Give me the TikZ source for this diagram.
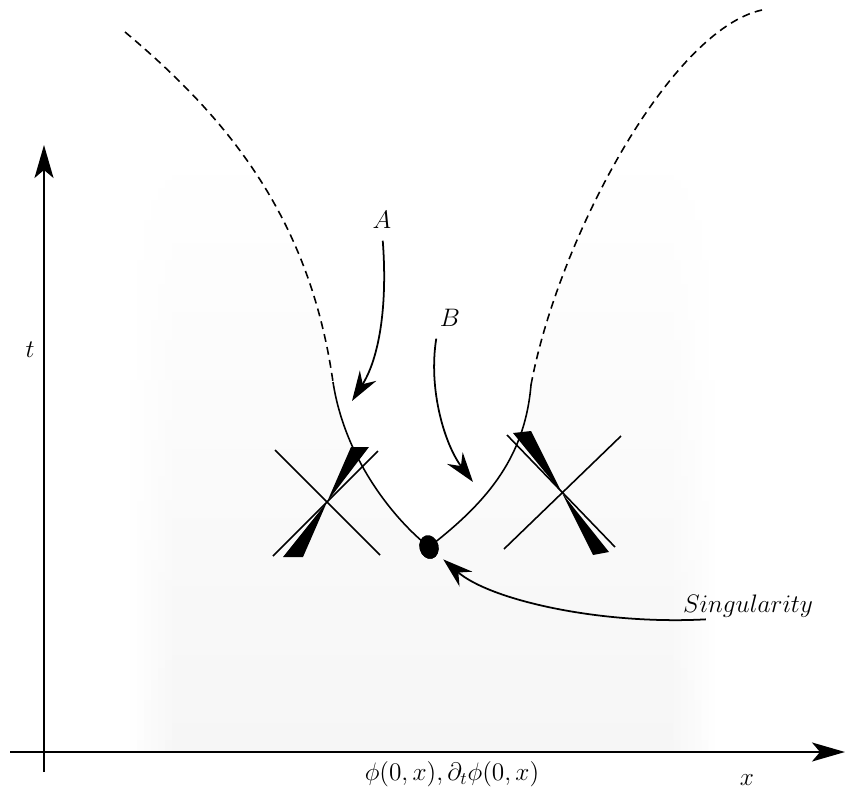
\documentclass[tikz,border=0pt]{standalone}
\usepackage{amsmath,amssymb}
\usetikzlibrary{arrows.meta,positioning,shapes.geometric}

\begin{document}
\begin{tikzpicture}[
 x=0.02cm,y=-0.02cm,
 axis/.style={-{Stealth[length=6.6mm,width=3.8mm,inset=1.6mm]},line width=1.1pt},
 arrow/.style={-{Stealth[length=6mm,width=3.9mm,inset=2mm]},line width=1pt},
 world/.style={line width=0.9pt},
 future/.style={world,dash pattern=on 4.5pt off 3pt},
 cone/.style={line width=0.9pt},
 lbl/.style={font=\Large,inner sep=1pt},
 blob/.style={ellipse,fill=black,inner sep=0pt,minimum width=3.8mm,minimum height=4.8mm,rotate=15}
]
\useasboundingbox (0,0) rectangle (846,798);
% faint background
\foreach \i in {1,...,6} {
  \shade[top color=white,bottom color=gray!\i] ({123+7*\i},140) rectangle ({131+7*\i},752);
  \shade[top color=white,bottom color=gray!\i] ({714-7*\i},140) rectangle ({722-7*\i},752);
}
\shade[top color=white,bottom color=gray!7] (172,140) rectangle (673,752);

% the two worldlines
\node[blob] (s) at (429,547) {};
\coordinate (lend) at (333,382);
\coordinate (rend) at (531,385);
\fill[white] (lend) .. controls (345,460) and (395,520) .. (s.center)
  .. controls (490,500) and (525,455) .. (rend)
  .. controls (558,240) and (670,30) .. (762,10)
  -- (125,32) .. controls (230,120) and (310,220) .. (lend);
\draw[future] (125,32) .. controls (230,120) and (310,220) .. (lend);
\draw[world] (lend) .. controls (345,460) and (395,520) .. (s.center);
\draw[world] (s.center) .. controls (490,500) and (525,455) .. (rend);
\draw[future] (rend) .. controls (558,240) and (670,30) .. (762,10);
\node[blob] at (s) {};

% axes
\coordinate (tlo) at (44,772);
\coordinate (thi) at (44,145);
\coordinate (xlo) at (10,752);
\coordinate (xhi) at (845,752);
\draw[axis] (tlo) -- (thi);
\draw[axis] (xlo) -- (xhi);
\node[lbl] (tlab) at (30,350) {$t$};
\node[lbl] (xlab) at (747,780) {$x$};
\node[lbl] (data) at (452,774) {$\phi(0,x),\partial_t\phi(0,x)$};

% light cones
\coordinate (lc) at (327,502);
\coordinate (rc) at (562,493);
\draw[cone] (275,450) -- (380,555);
\draw[cone] (273,556) -- (378,451);
\fill (351,447) -- (369,447) -- (lc) -- cycle;
\fill (lc) -- (283,557) -- (303,557) -- cycle;
\draw[cone] (507,435) -- (615,547);
\draw[cone] (504,549) -- (621,436);
\fill (513,433) -- (531,431) -- (rc) -- cycle;
\fill (rc) -- (593,555) -- (609,552) -- cycle;

% labels and arrows
\node[lbl] (a) at (382,220) {$A$};
\node[lbl] (b) at (450,318) {$B$};
\node[lbl] (sl) at (748,606) {$Singularity$};
\coordinate (atip) at (352,401);
\coordinate (btip) at (473,482);
\draw[arrow,shorten <=2mm] (a.south) .. controls (388,310) and (378,360) .. (atip);
\draw[arrow,shorten <=2mm] (b.south west) .. controls (428,390) and (445,445) .. (btip);
\draw[arrow,shorten >=1.5mm] ([xshift=5mm]sl.south west) .. controls (600,625) and (490,600) .. (s);
\end{tikzpicture}
\end{document}
